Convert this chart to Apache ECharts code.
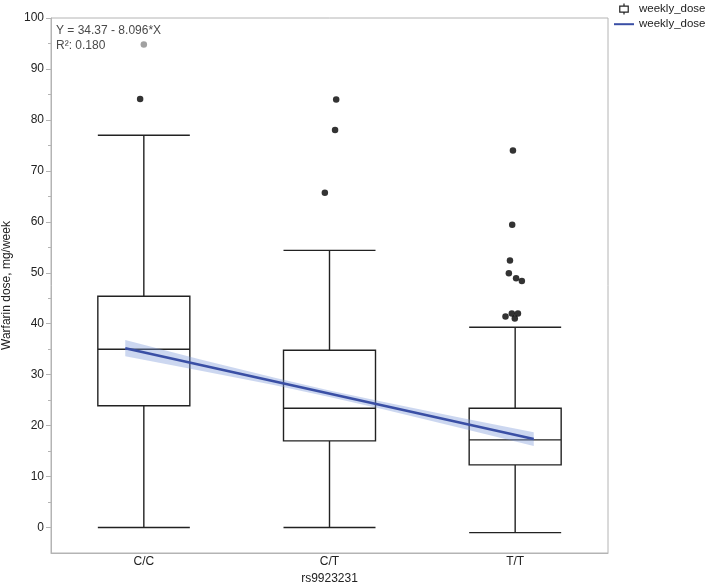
<!DOCTYPE html>
<html><head><meta charset="utf-8">
<script src="https://cdn.jsdelivr.net/npm/echarts@6/dist/echarts.min.js"></script>
<style>html,body{margin:0;padding:0;background:#fff}#c{width:708px;height:586px}</style>
</head><body><div id="c"></div>
<script>
const categories = ['C/C', 'C/T', 'T/T'];
// [lower whisker, Q1, median, Q3, upper whisker]
const boxStats = [
  [0, 23.9, 35.0, 45.4, 77.0],
  [0, 17.0, 23.4, 34.8, 54.4],
  [-1.0, 12.3, 17.2, 23.4, 39.3]
];
// outliers: [x position in category units (0=C/C,1=C/T,2=T/T), dose]
const outliers = [
  [-0.02, 84.1],
  [1.036, 84.0], [1.03, 78.0], [0.975, 65.7],
  [1.988, 74.0], [1.984, 59.4], [1.972, 52.4], [1.966, 49.9], [2.005, 48.9],
  [2.036, 48.4], [1.948, 41.4], [1.982, 42.0], [2.015, 42.0], [1.998, 41.0]
];
const excludedPoints = [[0.0, 94.8]];
const fitX = [-0.1, 2.1];
const fitY = [35.18, 17.37];
const bandX = [-0.1, 0.3, 0.7, 1.0, 1.3, 1.7, 2.1];
const bandLow = [33.6, 30.8, 27.95, 25.6, 23.1, 19.6, 16.0];
const bandHigh = [36.8, 33.05, 29.45, 26.9, 24.6, 21.6, 18.7];
const yLabelTicks = [0, 10, 20, 30, 40, 50, 60, 70, 80, 90, 100];
const yMinorTicks = [5, 15, 25, 35, 45, 55, 65, 75, 85, 95];
const eqLines = ['Y = 34.37 - 8.096*X', 'R²: 0.180'];

const FONT = '"Liberation Sans", Arial, sans-serif';
const chart = echarts.init(document.getElementById('c'), null, {renderer: 'canvas'});
const boxIcon = 'path://M5,0 V3 M0,3 H10 V10 H0 Z M5,10 V13';
const lineIcon = 'path://M0,0 H20 V2 H0 Z';
chart.setOption({
  animation: false,
  textStyle: {fontFamily: FONT},
  grid: {left: 51, right: 100, top: 18, bottom: 33, outerBoundsMode: 'none', containLabel: false,
         show: true, borderColor: '#b4b4b4', borderWidth: 1, backgroundColor: 'transparent'},
  legend: {
    orient: 'vertical', left: 614, top: 3, padding: 0, itemGap: 3, itemWidth: 20, itemHeight: 11,
    textStyle: {fontSize: 11.5, color: '#222', fontFamily: FONT},
    formatter: () => 'weekly_dose',
    data: [
      {name: 'box', icon: boxIcon, itemStyle: {color: '#fff', borderColor: '#222', borderWidth: 1.2}},
      {name: 'fit', icon: lineIcon, itemStyle: {color: '#3a4fa5', borderWidth: 0}}
    ]
  },
  xAxis: [
    {type: 'category', data: categories, boundaryGap: true,
     axisLine: {onZero: false, lineStyle: {color: '#b4b4b4'}}, axisTick: {show: false},
     axisLabel: {color: '#222', fontSize: 12, margin: 3},
     name: 'rs9923231', nameLocation: 'middle', nameGap: 18,
     nameTextStyle: {color: '#222', fontSize: 12}},
    {type: 'value', min: -0.5, max: 2.5, show: false}
  ],
  yAxis: [
    {type: 'value', min: -5, max: 100,
     axisLine: {show: true, onZero: false, lineStyle: {color: '#b4b4b4'}},
     axisTick: {show: true, length: 5, customValues: yLabelTicks, lineStyle: {color: '#b4b4b4'}},
     axisLabel: {customValues: yLabelTicks, color: '#222', fontSize: 12, margin: 7},
     splitLine: {show: false},
     name: 'Warfarin dose, mg/week', nameLocation: 'middle', nameGap: 33,
     nameTextStyle: {color: '#222', fontSize: 12}},
    {type: 'value', min: -5, max: 100, position: 'left',
     axisLine: {show: false, onZero: false},
     axisTick: {show: true, length: 3, customValues: yMinorTicks, lineStyle: {color: '#b4b4b4'}},
     axisLabel: {show: false}, splitLine: {show: false}}
  ],
  graphic: [
    {type: 'text', left: 56, top: 25, style: {text: eqLines[0], fill: '#4a4a4a', font: '12px ' + FONT}},
    {type: 'text', left: 56, top: 40, style: {text: eqLines[1], fill: '#4a4a4a', font: '12px ' + FONT}}
  ],
  series: [
    {name: 'box', type: 'boxplot', xAxisIndex: 0, yAxisIndex: 0, data: boxStats,
     boxWidth: [92, 92],
     itemStyle: {color: '#fff', borderColor: '#222', borderWidth: 1.4},
     emphasis: {disabled: true}, z: 2},
    {name: 'band', type: 'custom', xAxisIndex: 1, yAxisIndex: 0, data: [[0, 0]],
     renderItem: (params, api) => {
       const pts = [];
       for (let i = 0; i < bandX.length; i++) pts.push(api.coord([bandX[i], bandHigh[i]]));
       for (let i = bandX.length - 1; i >= 0; i--) pts.push(api.coord([bandX[i], bandLow[i]]));
       return {type: 'polygon', shape: {points: pts}, style: {fill: 'rgba(120,150,215,0.38)'}};
     }, silent: true, z: 3},
    {name: 'fit', type: 'line', xAxisIndex: 1, yAxisIndex: 0,
     data: fitX.map((x, i) => [x, fitY[i]]), symbol: 'none',
     lineStyle: {color: '#3a4fa5', width: 2.5}, itemStyle: {color: '#3a4fa5'}, z: 4},
    {name: 'outliers', type: 'scatter', xAxisIndex: 1, yAxisIndex: 0, data: outliers,
     symbolSize: 6.5, itemStyle: {color: '#000'}, z: 5},
    {name: 'excluded', type: 'scatter', xAxisIndex: 1, yAxisIndex: 0, data: excludedPoints,
     symbolSize: 6.5, itemStyle: {color: '#8a8a8a'}, z: 5}
  ]
});
</script></body></html>
